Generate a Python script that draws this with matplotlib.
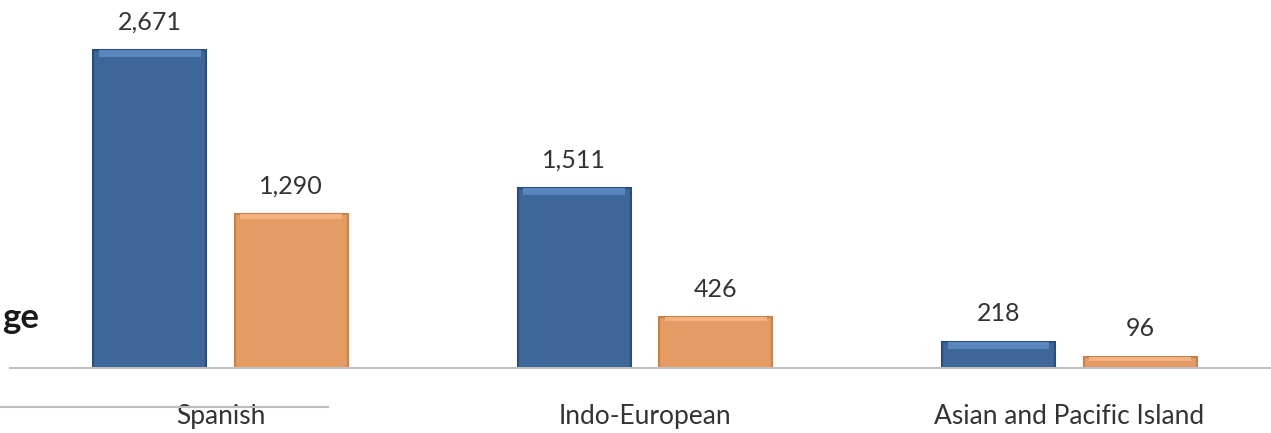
import numpy as np
import matplotlib
matplotlib.use("Agg")
import matplotlib.pyplot as plt

plt.rcParams['font.family'] = ['Lato', 'DejaVu Sans']

# data
categories = ["Spanish", "Indo-European", "Asian and Pacific Island"]
series_a = [2671, 1511, 218]   # blue
series_b = [1290, 426, 96]     # orange
labels_a = ["2,671", "1,511", "218"]
labels_b = ["1,290", "426", "96"]

blue = "#3d6699"
blue_edge = "#2c4d78"
orange = "#e59c64"
orange_edge = "#c8814c"

fig = plt.figure(figsize=(12.71, 4.33), dpi=100)
# axes spans from px x=10 to right edge, bottom at px y=368
ax = fig.add_axes([10 / 1271, 65 / 433, 1261 / 1271, 368 / 433])

x = np.arange(len(categories))
w = 0.266
off = 0.1667

ax.bar(x - off, series_a, w, color=blue, edgecolor=blue_edge, linewidth=1.5, zorder=2)
ax.bar(x + off, series_b, w, color=orange, edgecolor=orange_edge, linewidth=1.5, zorder=2)

# lighter top strip to hint at the bevel look
ax.bar(x - off, [min(v, 60) for v in series_a], w * 0.9,
       bottom=[v - min(v, 60) for v in series_a], color="#5a86bf", linewidth=0, zorder=3)
ax.bar(x + off, [min(v, 35) for v in series_b], w * 0.9,
       bottom=[v - min(v, 35) for v in series_b], color="#f2b27f", linewidth=0, zorder=3)

for xi, v, t in zip(x - off, series_a, labels_a):
    ax.annotate(t, (xi, v), xytext=(0, 12), textcoords="offset points",
                ha="center", va="bottom", fontsize=18, color="#333333")
for xi, v, t in zip(x + off, series_b, labels_b):
    ax.annotate(t, (xi, v), xytext=(0, 12), textcoords="offset points",
                ha="center", va="bottom", fontsize=18, color="#333333")

ax.set_xlim(-0.496, 2.475)
ax.set_ylim(0, 3091)
ax.set_xticks(x)
ax.set_xticklabels(categories, fontsize=19, color="#333333")
ax.tick_params(axis="x", length=0, pad=26)
ax.set_yticks([])
for s in ["top", "right", "left"]:
    ax.spines[s].set_visible(False)
ax.spines["bottom"].set_color("#c0c0c0")
ax.spines["bottom"].set_linewidth(1.5)

# cut-off title fragment and line on the left
fig.text(2 / 1271, 1 - 318 / 433, "ge", ha="left", va="center",
         fontsize=25, fontweight="bold", color="#1a1a1a")
fig.add_artist(plt.Line2D([0, 328 / 1271], [1 - 407 / 433, 1 - 407 / 433],
                          color="#bdbdbd", linewidth=1.5))

fig.savefig("out.png", dpi=100)
